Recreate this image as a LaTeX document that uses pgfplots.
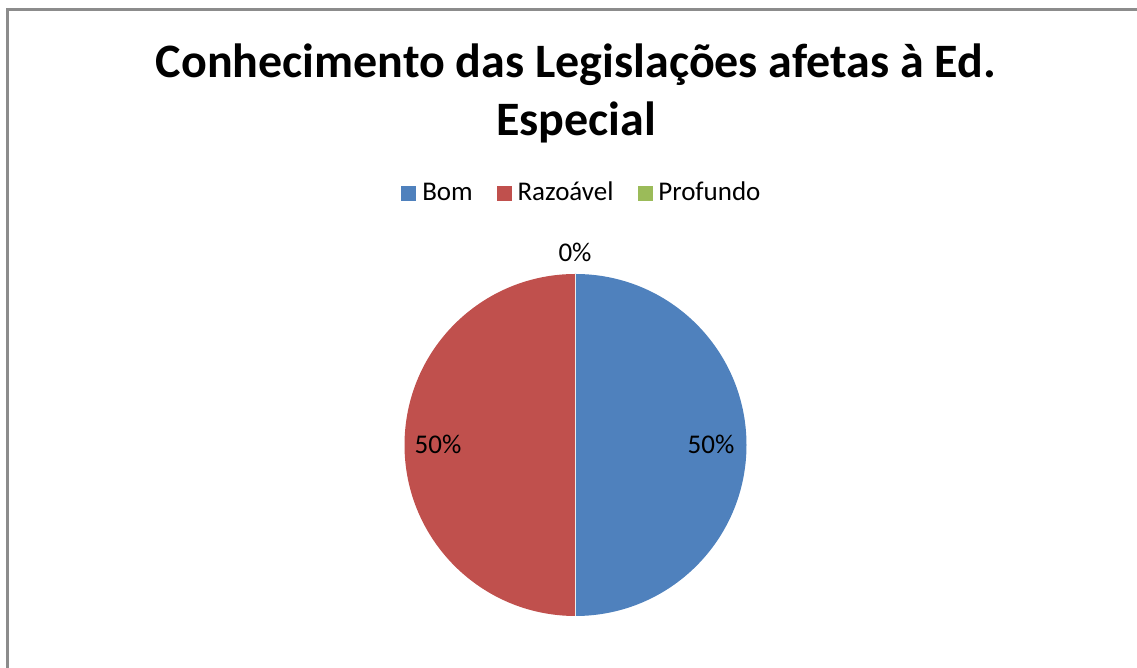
\documentclass[border=0pt]{standalone}
\usepackage{pgfplots}
\pgfplotsset{compat=1.18}
\usepackage{pgfplotstable}
\usepackage{fontspec}
\setmainfont{Carlito}
\definecolor{cblue}{HTML}{4F81BD}
\definecolor{cred}{HTML}{C0504D}
\definecolor{cgreen}{HTML}{9BBB59}
\definecolor{cframe}{HTML}{8C8C8C}
\pgfplotstableread{
label value
Bom 50
Razoavel 50
Profundo 0
}\piedata
\pgfplotstablegetelem{0}{value}\of\piedata \let\va\pgfplotsretval
\pgfplotstablegetelem{1}{value}\of\piedata \let\vb\pgfplotsretval
\pgfplotstablegetelem{2}{value}\of\piedata \let\vc\pgfplotsretval
\pgfmathsetmacro\total{\va+\vb+\vc}
\pgfmathsetmacro\aA{90}
\pgfmathsetmacro\aB{\aA-360*(\va/\total)}
\pgfmathsetmacro\aC{\aB-360*(\vb/\total)}
\pgfmathsetmacro\aD{\aC-360*(\vc/\total)}
\pgfmathtruncatemacro\pa{round(100*(\va/\total))}
\pgfmathtruncatemacro\pb{round(100*(\vb/\total))}
\pgfmathtruncatemacro\pc{round(100*(\vc/\total))}
\begin{document}
\begin{tikzpicture}
\begin{axis}[name=ax,
  x=0.5pt, y=0.5pt, xmin=0, xmax=1137, ymin=0, ymax=668,
  scale only axis, hide axis, clip=false, disabledatascaling,
  legend columns=3,
  legend style={at={(583/1137,475/668)}, anchor=center, draw=none, fill=none,
    font=\fontsize{13.5}{15}\selectfont, column sep=0pt,
    /tikz/every odd column/.append style={column sep=1pt},
    /tikz/every even column/.append style={column sep=10pt}},
  legend cell align=left,
]
\addlegendimage{legend image code/.code={\fill[cblue] (0pt,-3.9pt) rectangle (7pt,3.1pt);}}
\addlegendentry{Bom}
\addlegendimage{legend image code/.code={\fill[cred] (0pt,-3.9pt) rectangle (7pt,3.1pt);}}
\addlegendentry{Razoável}
\addlegendimage{legend image code/.code={\fill[cgreen] (0pt,-3.9pt) rectangle (7pt,3.1pt);}}
\addlegendentry{Profundo}
% frame
\draw[cframe, line width=1.5pt] (axis cs:7,0) -- (axis cs:7,658) -- (axis cs:1140,658);
% pie
\fill[cblue] (axis cs:575.5,223) -- ++(\aA:85.5pt) arc[start angle=\aA, end angle=\aB, radius=85.5pt] -- cycle;
\fill[cred] (axis cs:575.5,223) -- ++(\aB:85.5pt) arc[start angle=\aB, end angle=\aC, radius=85.5pt] -- cycle;
\fill[cgreen] (axis cs:575.5,223) -- ++(\aC:85.5pt) arc[start angle=\aC, end angle=\aD, radius=85.5pt] -- cycle;
\draw[white!85!gray, line width=0.4pt] (axis cs:575.5,223) -- ++(90:85.5pt);
\draw[white!85!gray, line width=0.4pt] (axis cs:575.5,223) -- ++(-90:85.5pt);
% labels
\node[font=\fontsize{13.5}{15}\selectfont, anchor=base] at (axis cs:711,214) {\pa\%};
\node[font=\fontsize{13.5}{15}\selectfont, anchor=base] at (axis cs:438,214) {\pb\%};
\node[font=\fontsize{13.5}{15}\selectfont, anchor=base] at (axis cs:575,406) {\pc\%};
% title
\node[font=\fontsize{24}{29}\selectfont\bfseries, anchor=base] at (axis cs:576,590) {Conhecimento das Legislações afetas à Ed.};
\node[font=\fontsize{24}{29}\selectfont\bfseries, anchor=base] at (axis cs:576,532) {Especial};
\end{axis}
\pgfresetboundingbox
\path (ax.south west) rectangle (ax.north east);
\end{tikzpicture}
\end{document}
